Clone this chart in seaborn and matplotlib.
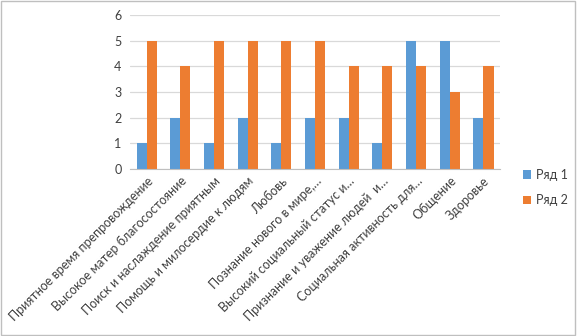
import pandas as pd
import seaborn as sns
import matplotlib.pyplot as plt
from matplotlib.patches import Rectangle

# Данные с картинки
categories = [
    'Приятное время препровождение',
    'Высокое матер благосостояние',
    'Поиск и наслаждение приятным',
    'Помощь и милосердие к людям',
    'Любовь',
    'Познание нового в мире,…',
    'Высокий социальный статус и…',
    'Признание и уважение людей  и…',
    'Социальная активность для…',
    'Общение',
    'Здоровье',
]
row1 = [1, 2, 1, 2, 1, 2, 2, 1, 5, 5, 2]
row2 = [5, 4, 5, 5, 5, 5, 4, 4, 4, 3, 4]
series = ['Ряд 1', 'Ряд 2']

df = pd.DataFrame({
    'cat': categories * 2,
    'val': row1 + row2,
    'series': [series[0]] * len(categories) + [series[1]] * len(categories),
})

sns.set_style('white')
plt.rcParams['font.family'] = ['Lato', 'DejaVu Sans']

fig = plt.figure(figsize=(5.77, 3.36), dpi=100)
ax = fig.add_axes([0.225, 0.497, 0.642, 0.458])

sns.barplot(
    data=df, x='cat', y='val', hue='series',
    palette={'Ряд 1': '#5B9BD5', 'Ряд 2': '#ED7D31'},
    width=0.6, ax=ax, saturation=1, linewidth=0,
)

ax.set_ylim(0, 6)
ax.set_yticks(range(0, 7))
ax.yaxis.grid(True, color='#D9D9D9', linewidth=0.9)
ax.set_axisbelow(True)
ax.set_xlabel('')
ax.set_ylabel('')
for s in ['top', 'right', 'left']:
    ax.spines[s].set_visible(False)
ax.spines['bottom'].set_color('#BFBFBF')
ax.set_xlim(-0.5, len(categories) - 0.5)

# засечки между категориями
ax.set_xticks([i - 0.5 for i in range(len(categories) + 1)], minor=True)
ax.tick_params(axis='x', which='minor', length=4, color='#BFBFBF', width=0.8, direction='out')
ax.tick_params(axis='x', which='major', length=0, pad=4)
ax.tick_params(axis='y', length=0, pad=6, labelsize=9, labelcolor='#404040')
ax.set_xticks(range(len(categories)))
ax.set_xticklabels(categories, rotation=45, ha='right', rotation_mode='anchor',
                   fontsize=9, color='#404040')

leg = ax.legend(loc='center left', bbox_to_anchor=(1.03, -0.12), frameon=False,
                fontsize=9, handlelength=0.7, handleheight=0.7,
                handletextpad=0.4, labelspacing=1.1)
for t in leg.get_texts():
    t.set_color('#404040')

fig.patches.append(Rectangle((0.002, 0.003), 0.995, 0.993, transform=fig.transFigure,
                             fill=False, edgecolor='#BFBFBF', linewidth=1))

fig.savefig('out.png', dpi=100)
